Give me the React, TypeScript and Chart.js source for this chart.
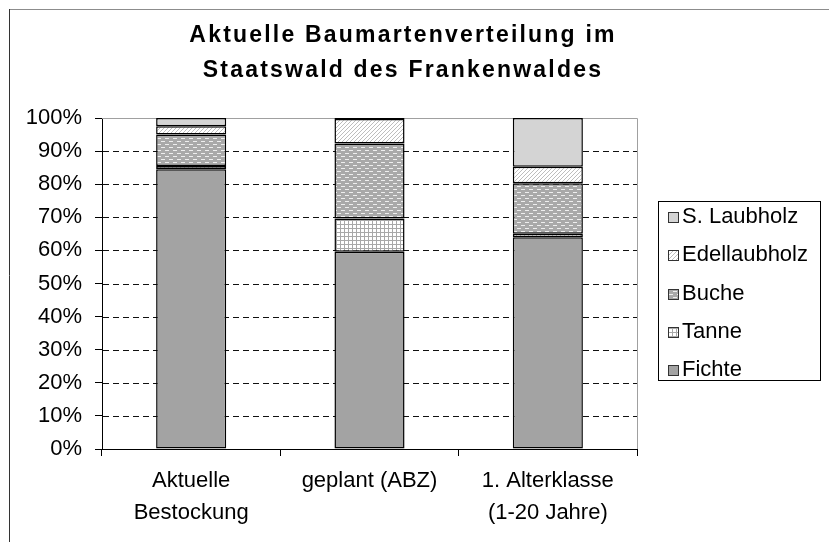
import React, { useEffect, useRef } from 'react';
import { Chart, registerables } from 'chart.js';

Chart.register(...registerables);

const titleLines = ['Aktuelle Baumartenverteilung im', 'Staatswald des Frankenwaldes'];
const categories = [['Aktuelle', 'Bestockung'], 'geplant (ABZ)', ['1. Alterklasse', '(1-20 Jahre)']];
const seriesNames = ['Fichte', 'Tanne', 'Buche', 'Edellaubholz', 'S. Laubholz'];
const fichte = [84.5, 59.6, 64.0];
const tanne = [1.0, 10.0, 1.0];
const buche = [9.5, 22.7, 15.3];
const edellaubholz = [2.5, 7.4, 5.0];
const sLaubholz = [2.5, 0.3, 14.7];
const yTickValues = [0, 10, 20, 30, 40, 50, 60, 70, 80, 90, 100];

const FONT = '"Liberation Sans", Arial, sans-serif';

function makePattern(w: number, h: number, draw: (g: CanvasRenderingContext2D) => void) {
  const c = document.createElement('canvas');
  c.width = w;
  c.height = h;
  const g = c.getContext('2d')!;
  draw(g);
  const ctx = document.createElement('canvas').getContext('2d')!;
  return ctx.createPattern(c, 'repeat')!;
}

function buildFills() {
  const fFichte = '#a3a3a3';
  const fTanne = makePattern(4, 4, (g) => {
    g.fillStyle = '#ffffff';
    g.fillRect(0, 0, 4, 4);
    g.fillStyle = '#a8a8a8';
    g.fillRect(0, 0, 4, 1);
    g.fillRect(0, 0, 1, 4);
  });
  const fBuche = makePattern(8, 6, (g) => {
    g.fillStyle = '#a9a9a9';
    g.fillRect(0, 0, 8, 6);
    g.fillStyle = '#eeeeee';
    g.fillRect(1, 1, 4, 1);
    g.fillRect(5, 4, 3, 1);
    g.fillRect(0, 4, 1, 1);
  });
  const fEdel = makePattern(4, 4, (g) => {
    g.fillStyle = '#ffffff';
    g.fillRect(0, 0, 4, 4);
    g.fillStyle = '#bdbdbd';
    g.fillRect(3, 0, 1, 1);
    g.fillRect(2, 1, 1, 1);
    g.fillRect(1, 2, 1, 1);
    g.fillRect(0, 3, 1, 1);
  });
  const fSL = '#d4d4d4';
  return [fFichte, fTanne, fBuche, fEdel, fSL];
}

const framePlugin = {
  id: 'frameAndTitle',
  beforeDraw(chart: any) {
    const ctx = chart.ctx;
    ctx.save();
    ctx.fillStyle = '#ffffff';
    ctx.fillRect(0, 0, chart.width, chart.height);
    ctx.lineWidth = 1;
    ctx.strokeStyle = '#8c8c8c';
    ctx.beginPath();
    ctx.moveTo(1, 1.5);
    ctx.lineTo(chart.width, 1.5);
    ctx.stroke();
    ctx.strokeStyle = '#333333';
    ctx.beginPath();
    ctx.moveTo(1.5, 1);
    ctx.lineTo(1.5, chart.height);
    ctx.stroke();
    // title
    ctx.fillStyle = '#000000';
    ctx.font = 'bold 23px ' + FONT;
    (ctx as any).letterSpacing = '2.2px';
    ctx.textAlign = 'center';
    ctx.textBaseline = 'middle';
    ctx.fillText(titleLines[0], 395, 28);
    ctx.fillText(titleLines[1], 395, 63);
    (ctx as any).letterSpacing = '0px';
    ctx.restore();
  },
  beforeDatasetsDraw(chart: any) {
    const ctx = chart.ctx;
    const { left, right, top, bottom } = chart.chartArea;
    const y = chart.scales.y;
    ctx.save();
    ctx.lineWidth = 1;
    ctx.strokeStyle = '#111111';
    ctx.setLineDash([6, 4]);
    for (const v of yTickValues) {
      if (v === 0 || v === 100) continue;
      const py = Math.round(y.getPixelForValue(v)) + 0.5;
      ctx.beginPath();
      ctx.moveTo(left + 1, py);
      ctx.lineTo(right, py);
      ctx.stroke();
    }
    ctx.setLineDash([]);
    ctx.strokeStyle = '#a0a0a0';
    ctx.beginPath();
    const ty = Math.round(y.getPixelForValue(100)) + 0.5;
    ctx.moveTo(left, ty);
    ctx.lineTo(Math.round(right) + 0.5, ty);
    ctx.lineTo(Math.round(right) + 0.5, bottom);
    ctx.stroke();
    ctx.restore();
  },
  afterDraw(chart: any) {
    const ctx = chart.ctx;
    ctx.save();
    const bx = 650.5, by = 193.5, bw = 162, bh = 179;
    ctx.strokeStyle = '#000000';
    ctx.lineWidth = 1;
    ctx.strokeRect(bx, by, bw, bh);
    const ds = chart.data.datasets.slice().reverse();
    ctx.font = '22px ' + FONT;
    ctx.textAlign = 'left';
    ctx.textBaseline = 'middle';
    ds.forEach((d: any, i: number) => {
      const cy = 209 + i * 38.3;
      ctx.fillStyle = d.backgroundColor;
      ctx.fillRect(660, Math.round(cy) - 5, 11, 11);
      ctx.strokeStyle = '#333333';
      ctx.strokeRect(660.5, Math.round(cy) - 4.5, 10, 10);
      ctx.fillStyle = '#000000';
      ctx.fillText(d.label, 674, cy);
    });
    ctx.restore();
  },
};

export default function App() {
  const ref = useRef<HTMLCanvasElement | null>(null);
  useEffect(() => {
    if (!ref.current) return;
    const fills = buildFills();
    const values = [fichte, tanne, buche, edellaubholz, sLaubholz];
    const chart = new Chart(ref.current, {
      type: 'bar',
      data: {
        labels: categories as any,
        datasets: seriesNames.map((name, i) => ({
          label: name,
          data: values[i],
          backgroundColor: fills[i] as any,
          borderColor: '#000000',
          borderWidth: 1.5,
          borderSkipped: false,
          barPercentage: 0.393,
          categoryPercentage: 1,
        })),
      },
      options: {
        responsive: false,
        animation: false,
        layout: { padding: { left: 0, top: 110, right: 192, bottom: 0 } },
        plugins: {
          legend: { display: false },
          title: { display: false },
          tooltip: { enabled: false },
        },
        scales: {
          x: {
            stacked: true,
            grid: { display: true, drawOnChartArea: false, drawTicks: true, tickLength: 7, color: '#000000', offset: true },
            border: { display: true, color: '#000000', width: 1 },
            ticks: { color: '#000000', font: { family: FONT, size: 22, lineHeight: 1.45 }, padding: 9, maxRotation: 0, autoSkip: false },
            afterFit: (s: any) => { s.height = 93; },
          },
          y: {
            stacked: true,
            min: 0,
            max: 100,
            afterBuildTicks: (s: any) => { s.ticks = yTickValues.map((v) => ({ value: v })); },
            grid: { display: true, drawOnChartArea: false, drawTicks: true, tickLength: 7, color: '#000000' },
            border: { display: true, color: '#000000', width: 1 },
            ticks: { color: '#000000', font: { family: FONT, size: 22 }, padding: 13, callback: (v: any) => v + '%' },
            afterFit: (s: any) => { s.width = 94; },
          },
        },
      },
      plugins: [framePlugin],
    });
    return () => chart.destroy();
  }, []);
  return <canvas ref={ref} width={821} height={534} />;
}
